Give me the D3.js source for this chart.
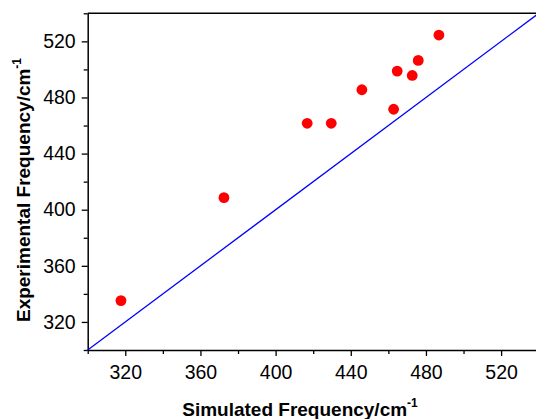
<!DOCTYPE html>
<html>
<head>
<meta charset="utf-8">
<script src="https://cdn.jsdelivr.net/npm/d3@7"></script>
<style>
  body { margin: 0; background: #fff; }
  svg { display: block; }
  text { font-family: "Liberation Sans", Arial, sans-serif; }
</style>
</head>
<body>
<script>
// simulated vs experimental frequencies (cm-1)
var simulated    = [317.7, 372.5, 416.8, 429.6, 445.9, 462.8, 464.7, 472.7, 475.9, 486.9];
var experimental = [335.2, 408.6, 461.6, 461.6, 485.5, 471.6, 498.8, 495.7, 506.4, 524.5];
var ticks = [320, 360, 400, 440, 480, 520];
var minorTicks = [300, 340, 380, 420, 460, 500, 540];
var domain = [300, 540];

var width = 536, height = 419;
// note: "top" is taken by window.top, so use other names
var plotLeft = 87.7, plotTop = 13.3, plotW = 451, plotH = 336.7;

var svg = d3.select('body').append('svg')
    .attr('width', width)
    .attr('height', height);

var x = d3.scaleLinear().domain(domain).range([plotLeft, plotLeft + plotW]);
var y = d3.scaleLinear().domain(domain).range([plotTop + plotH, plotTop]);

// frame (top and right)
svg.append('path')
    .attr('d', 'M' + x(300) + ',' + y(540) + 'H' + x(540) + 'V' + y(300))
    .attr('fill', 'none')
    .attr('stroke', '#000')
    .attr('stroke-width', 1.5);

// minor ticks
svg.append('g')
    .attr('transform', 'translate(0,' + y(300) + ')')
    .call(d3.axisBottom(x).tickValues(minorTicks).tickSize(4).tickFormat('').tickSizeOuter(0))
    .call(function (g) { g.select('.domain').remove(); });
svg.append('g')
    .attr('transform', 'translate(' + x(300) + ',0)')
    .call(d3.axisLeft(y).tickValues(minorTicks).tickSize(4).tickFormat('').tickSizeOuter(0))
    .call(function (g) { g.select('.domain').remove(); });

// major axes
svg.append('g')
    .attr('transform', 'translate(0,' + y(300) + ')')
    .call(d3.axisBottom(x).tickValues(ticks).tickSize(6).tickPadding(9).tickSizeOuter(0));
svg.append('g')
    .attr('transform', 'translate(' + x(300) + ',0)')
    .call(d3.axisLeft(y).tickValues(ticks).tickSize(6).tickPadding(6).tickSizeOuter(0));

svg.selectAll('.domain').attr('stroke-width', 1.5);
svg.selectAll('.tick line').attr('stroke-width', 1.3);
svg.selectAll('.tick text')
    .attr('font-family', '"Liberation Sans", Arial, sans-serif')
    .attr('font-size', 19.5)
    .attr('fill', '#000');

// y = x reference line
svg.append('line')
    .attr('x1', x(300)).attr('y1', y(300))
    .attr('x2', x(540)).attr('y2', y(540))
    .attr('stroke', '#0000ff')
    .attr('stroke-width', 1.3);

// points
svg.selectAll('circle')
    .data(simulated)
    .enter()
    .append('circle')
    .attr('cx', function (d) { return x(d); })
    .attr('cy', function (d, i) { return y(experimental[i]); })
    .attr('r', 5.4)
    .attr('fill', '#ff0000');

// axis titles
var xt = svg.append('text')
    .attr('x', 300).attr('y', 416)
    .attr('text-anchor', 'middle')
    .attr('font-size', 19).attr('font-weight', 'bold');
xt.append('tspan').text('Simulated Frequency/cm');
xt.append('tspan').attr('dy', -9).attr('font-size', 12).text('-1');

var yt = svg.append('text')
    .attr('transform', 'translate(30,190) rotate(-90)')
    .attr('text-anchor', 'middle')
    .attr('font-size', 19).attr('font-weight', 'bold');
yt.append('tspan').text('Experimental Frequency/cm');
yt.append('tspan').attr('dy', -9).attr('font-size', 12).text('-1');
</script>
</body>
</html>
